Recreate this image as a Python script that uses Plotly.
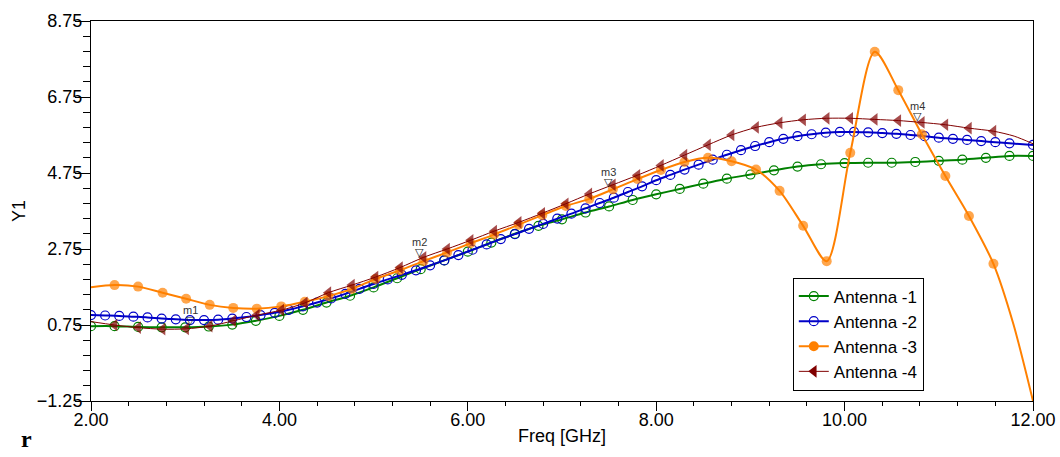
import plotly.graph_objects as go

# ---------------- data ----------------
FREQ_ANT1 = [2.00, 2.25, 2.50, 2.75, 3.00, 3.25, 3.50, 3.75, 4.00, 4.25, 4.50, 4.75,
             5.00, 5.25, 5.50, 5.75, 6.00, 6.25, 6.50, 6.75, 7.00, 7.25, 7.50, 7.75,
             8.00, 8.25, 8.50, 8.75, 9.00, 9.25, 9.50, 9.75, 10.00, 10.25, 10.50,
             10.75, 11.00, 11.25, 11.50, 11.75, 12.00]
Y_ANT1 = [0.72, 0.72, 0.70, 0.69, 0.69, 0.71, 0.76, 0.86, 0.99, 1.15, 1.34, 1.52,
          1.74, 1.98, 2.22, 2.45, 2.68, 2.92, 3.15, 3.36, 3.53, 3.71, 3.87, 4.04,
          4.19, 4.33, 4.47, 4.60, 4.71, 4.82, 4.92, 4.98, 5.01, 5.02, 5.02,
          5.04, 5.07, 5.10, 5.15, 5.20, 5.20]

FREQ_ANT2 = [2.00, 2.15, 2.30, 2.45, 2.60, 2.75, 2.90, 3.05, 3.20, 3.35, 3.50, 3.65,
             3.80, 3.95, 4.10, 4.25, 4.40, 4.55, 4.70, 4.85, 5.00, 5.15, 5.30, 5.45,
             5.60, 5.75, 5.90, 6.05, 6.20, 6.35, 6.50, 6.65, 6.80, 6.95, 7.10, 7.25,
             7.40, 7.55, 7.70, 7.85, 8.00, 8.15, 8.30, 8.45, 8.60, 8.75, 8.90, 9.05,
             9.20, 9.35, 9.50, 9.65, 9.80, 9.95, 10.10, 10.25, 10.40, 10.55, 10.70,
             10.85, 11.00, 11.15, 11.30, 11.45, 11.60, 11.75, 12.00]
Y_ANT2 = [1.01, 1.00, 0.99, 0.97, 0.95, 0.92, 0.90, 0.88, 0.88, 0.89, 0.92, 0.96,
          1.01, 1.07, 1.15, 1.24, 1.34, 1.45, 1.57, 1.70, 1.83, 1.95, 2.07, 2.19,
          2.32, 2.45, 2.59, 2.73, 2.87, 3.01, 3.14, 3.28, 3.41, 3.55, 3.68, 3.82,
          3.96, 4.10, 4.25, 4.40, 4.56, 4.70, 4.84, 4.97, 5.10, 5.23, 5.35, 5.46,
          5.56, 5.65, 5.72, 5.77, 5.81, 5.83, 5.83, 5.82, 5.80, 5.78, 5.75,
          5.72, 5.68, 5.65, 5.62, 5.59, 5.56, 5.53, 5.49]

FREQ_ANT3 = [2.00, 2.25, 2.50, 2.76, 3.01, 3.26, 3.51, 3.76, 4.02, 4.27, 4.52, 4.77,
             5.02, 5.28, 5.53, 5.78, 6.03, 6.28, 6.54, 6.79, 7.04, 7.29, 7.54, 7.80,
             8.05, 8.30, 8.55, 8.80, 9.06, 9.31, 9.56, 9.81, 10.06, 10.32, 10.57,
             10.82, 11.07, 11.32, 11.58, 11.79, 12.00]
Y_ANT3 = [1.74, 1.80, 1.76, 1.60, 1.44, 1.28, 1.20, 1.18, 1.24, 1.36, 1.51, 1.70,
          1.96, 2.19, 2.43, 2.66, 2.90, 3.13, 3.39, 3.64, 3.88, 4.07, 4.32, 4.59,
          4.83, 5.04, 5.15, 5.06, 4.84, 4.28, 3.36, 2.43, 5.28, 7.94, 6.93,
          5.77, 4.67, 3.62, 2.36, 0.79, -1.25]
SYM_ANT3 = [0] + [1] * 38 + [0, 0]   # 1 = symbol drawn at this sample

FREQ_ANT4 = [2.00, 2.25, 2.50, 2.76, 3.01, 3.26, 3.51, 3.76, 4.02, 4.27, 4.52, 4.77,
             5.02, 5.28, 5.53, 5.78, 6.03, 6.28, 6.54, 6.79, 7.04, 7.29, 7.54, 7.80,
             8.05, 8.30, 8.55, 8.80, 9.06, 9.31, 9.56, 9.81, 10.06, 10.32, 10.57,
             10.82, 11.07, 11.32, 11.58, 11.80, 12.00]
Y_ANT4 = [0.84, 0.75, 0.68, 0.64, 0.65, 0.72, 0.86, 1.01, 1.14, 1.33, 1.60, 1.80,
          2.01, 2.26, 2.53, 2.75, 2.98, 3.22, 3.45, 3.69, 3.94, 4.20, 4.44, 4.69,
          4.95, 5.22, 5.49, 5.75, 5.95, 6.07, 6.15, 6.19, 6.19, 6.16, 6.13,
          6.08, 6.02, 5.93, 5.85, 5.72, 5.52]
SYM_ANT4 = [0] + [1] * 38 + [0, 0]

SERIES_NAMES = ["Antenna -1", "Antenna -2", "Antenna -3", "Antenna -4"]

MARKER_NAMES = ["m1", "m2", "m3", "m4"]
MARKER_FREQ = [3.06, 5.49, 7.49, 10.77]
MARKER_VAL = [0.76, 2.53, 4.37, 6.12]

X_TICK0, X_DTICK, X_MINOR = 2.0, 2.0, 0.4
Y_TICK0, Y_DTICK, Y_MINOR = -1.25, 2.0, 0.4

# ---------------- styles ----------------
GREEN = "#008000"
BLUE = "#0000C8"
ORANGE = "#FF8000"
DARKRED = "#800000"
FONT = "Arial, Liberation Sans, sans-serif"

fig = go.Figure()

def add_series(x, y, name, color, width, symbol, msize, filled, sizes=None):
    ms = msize if sizes is None else [msize * s for s in sizes]
    mline = dict(color=color, width=1.2 if not filled else 0)
    fig.add_trace(go.Scatter(
        x=x, y=y, mode="lines+markers", name=name, showlegend=False,
        line=dict(color=color, width=width, shape="spline", smoothing=0.8),
        marker=dict(symbol=symbol, size=ms, color=color, line=mline),
        hoverinfo="x+y+name"))
    # legend-only proxy
    fig.add_trace(go.Scatter(
        x=[None], y=[None], mode="lines+markers", name=name, showlegend=True,
        line=dict(color=color, width=width),
        marker=dict(symbol=symbol, size=msize, color=color, line=mline)))

add_series(FREQ_ANT1, Y_ANT1, SERIES_NAMES[0], GREEN, 2, "circle-open", 9, False)
add_series(FREQ_ANT2, Y_ANT2, SERIES_NAMES[1], BLUE, 2, "circle-open", 9, False)
add_series(FREQ_ANT3, Y_ANT3, SERIES_NAMES[2], ORANGE, 2, "circle", 10, True, SYM_ANT3)
add_series(FREQ_ANT4, Y_ANT4, SERIES_NAMES[3], DARKRED, 1, "triangle-left", 11, True, SYM_ANT4)

annotations = []
for nm, fx, fy in zip(MARKER_NAMES, MARKER_FREQ, MARKER_VAL):
    annotations.append(dict(x=fx, y=fy, xref="x", yref="y", text="▽", showarrow=False,
                            yanchor="bottom", yshift=-4,
                            font=dict(family="DejaVu Sans", size=11, color="#222222")))
    annotations.append(dict(x=fx, y=fy, xref="x", yref="y", text=nm, showarrow=False,
                            yanchor="bottom", yshift=7,
                            font=dict(family=FONT, size=11, color="#333333")))

annotations.append(dict(x=-0.0765, y=-0.14, xref="paper", yref="paper", text="<b>r</b>",
                        showarrow=False, font=dict(family="Liberation Serif, serif",
                                                   size=24, color="#000000")))

fig.update_layout(
    width=1060, height=457, autosize=False,
    margin=dict(l=91, r=27, t=21, b=56, pad=0, autoexpand=False),
    paper_bgcolor="white", plot_bgcolor="white",
    font=dict(family=FONT, size=18, color="black"),
    annotations=annotations,
    legend=dict(x=0.745, y=0.325, xanchor="left", yanchor="top",
                bgcolor="white", bordercolor="black", borderwidth=1,
                font=dict(family=FONT, size=17, color="black"),
                tracegroupgap=0, itemwidth=30),
    showlegend=True,
)

fig.update_xaxes(
    range=[2, 12], tick0=X_TICK0, dtick=X_DTICK, tickformat=".2f", automargin=False,
    showgrid=False, zeroline=False, showline=True, linecolor="black", linewidth=1,
    mirror=True, ticks="outside", ticklen=9, tickcolor="black", ticklabelstandoff=-7,
    minor=dict(dtick=X_MINOR, tick0=X_TICK0, ticks="outside", ticklen=4, tickcolor="black", showgrid=False),
    title=dict(text="Freq [GHz]", standoff=0, font=dict(size=18)),
    tickfont=dict(size=18),
)
fig.update_yaxes(
    range=[-1.25, 8.75], tick0=Y_TICK0, dtick=Y_DTICK, tickformat=".2f", automargin=False,
    showgrid=False, zeroline=False, showline=True, linecolor="black", linewidth=1,
    mirror=True, ticks="outside", ticklen=15, tickcolor="black", ticklabelstandoff=-11,
    minor=dict(dtick=Y_MINOR, tick0=Y_TICK0, ticks="outside", ticklen=7, tickcolor="black", showgrid=False),
    title=dict(text="Y1", standoff=6, font=dict(size=18)),
    tickfont=dict(size=18),
)

fig.write_html("out.html", config={"displayModeBar": False},
               post_script="document.body.style.margin='0';document.body.style.overflow='hidden';")
